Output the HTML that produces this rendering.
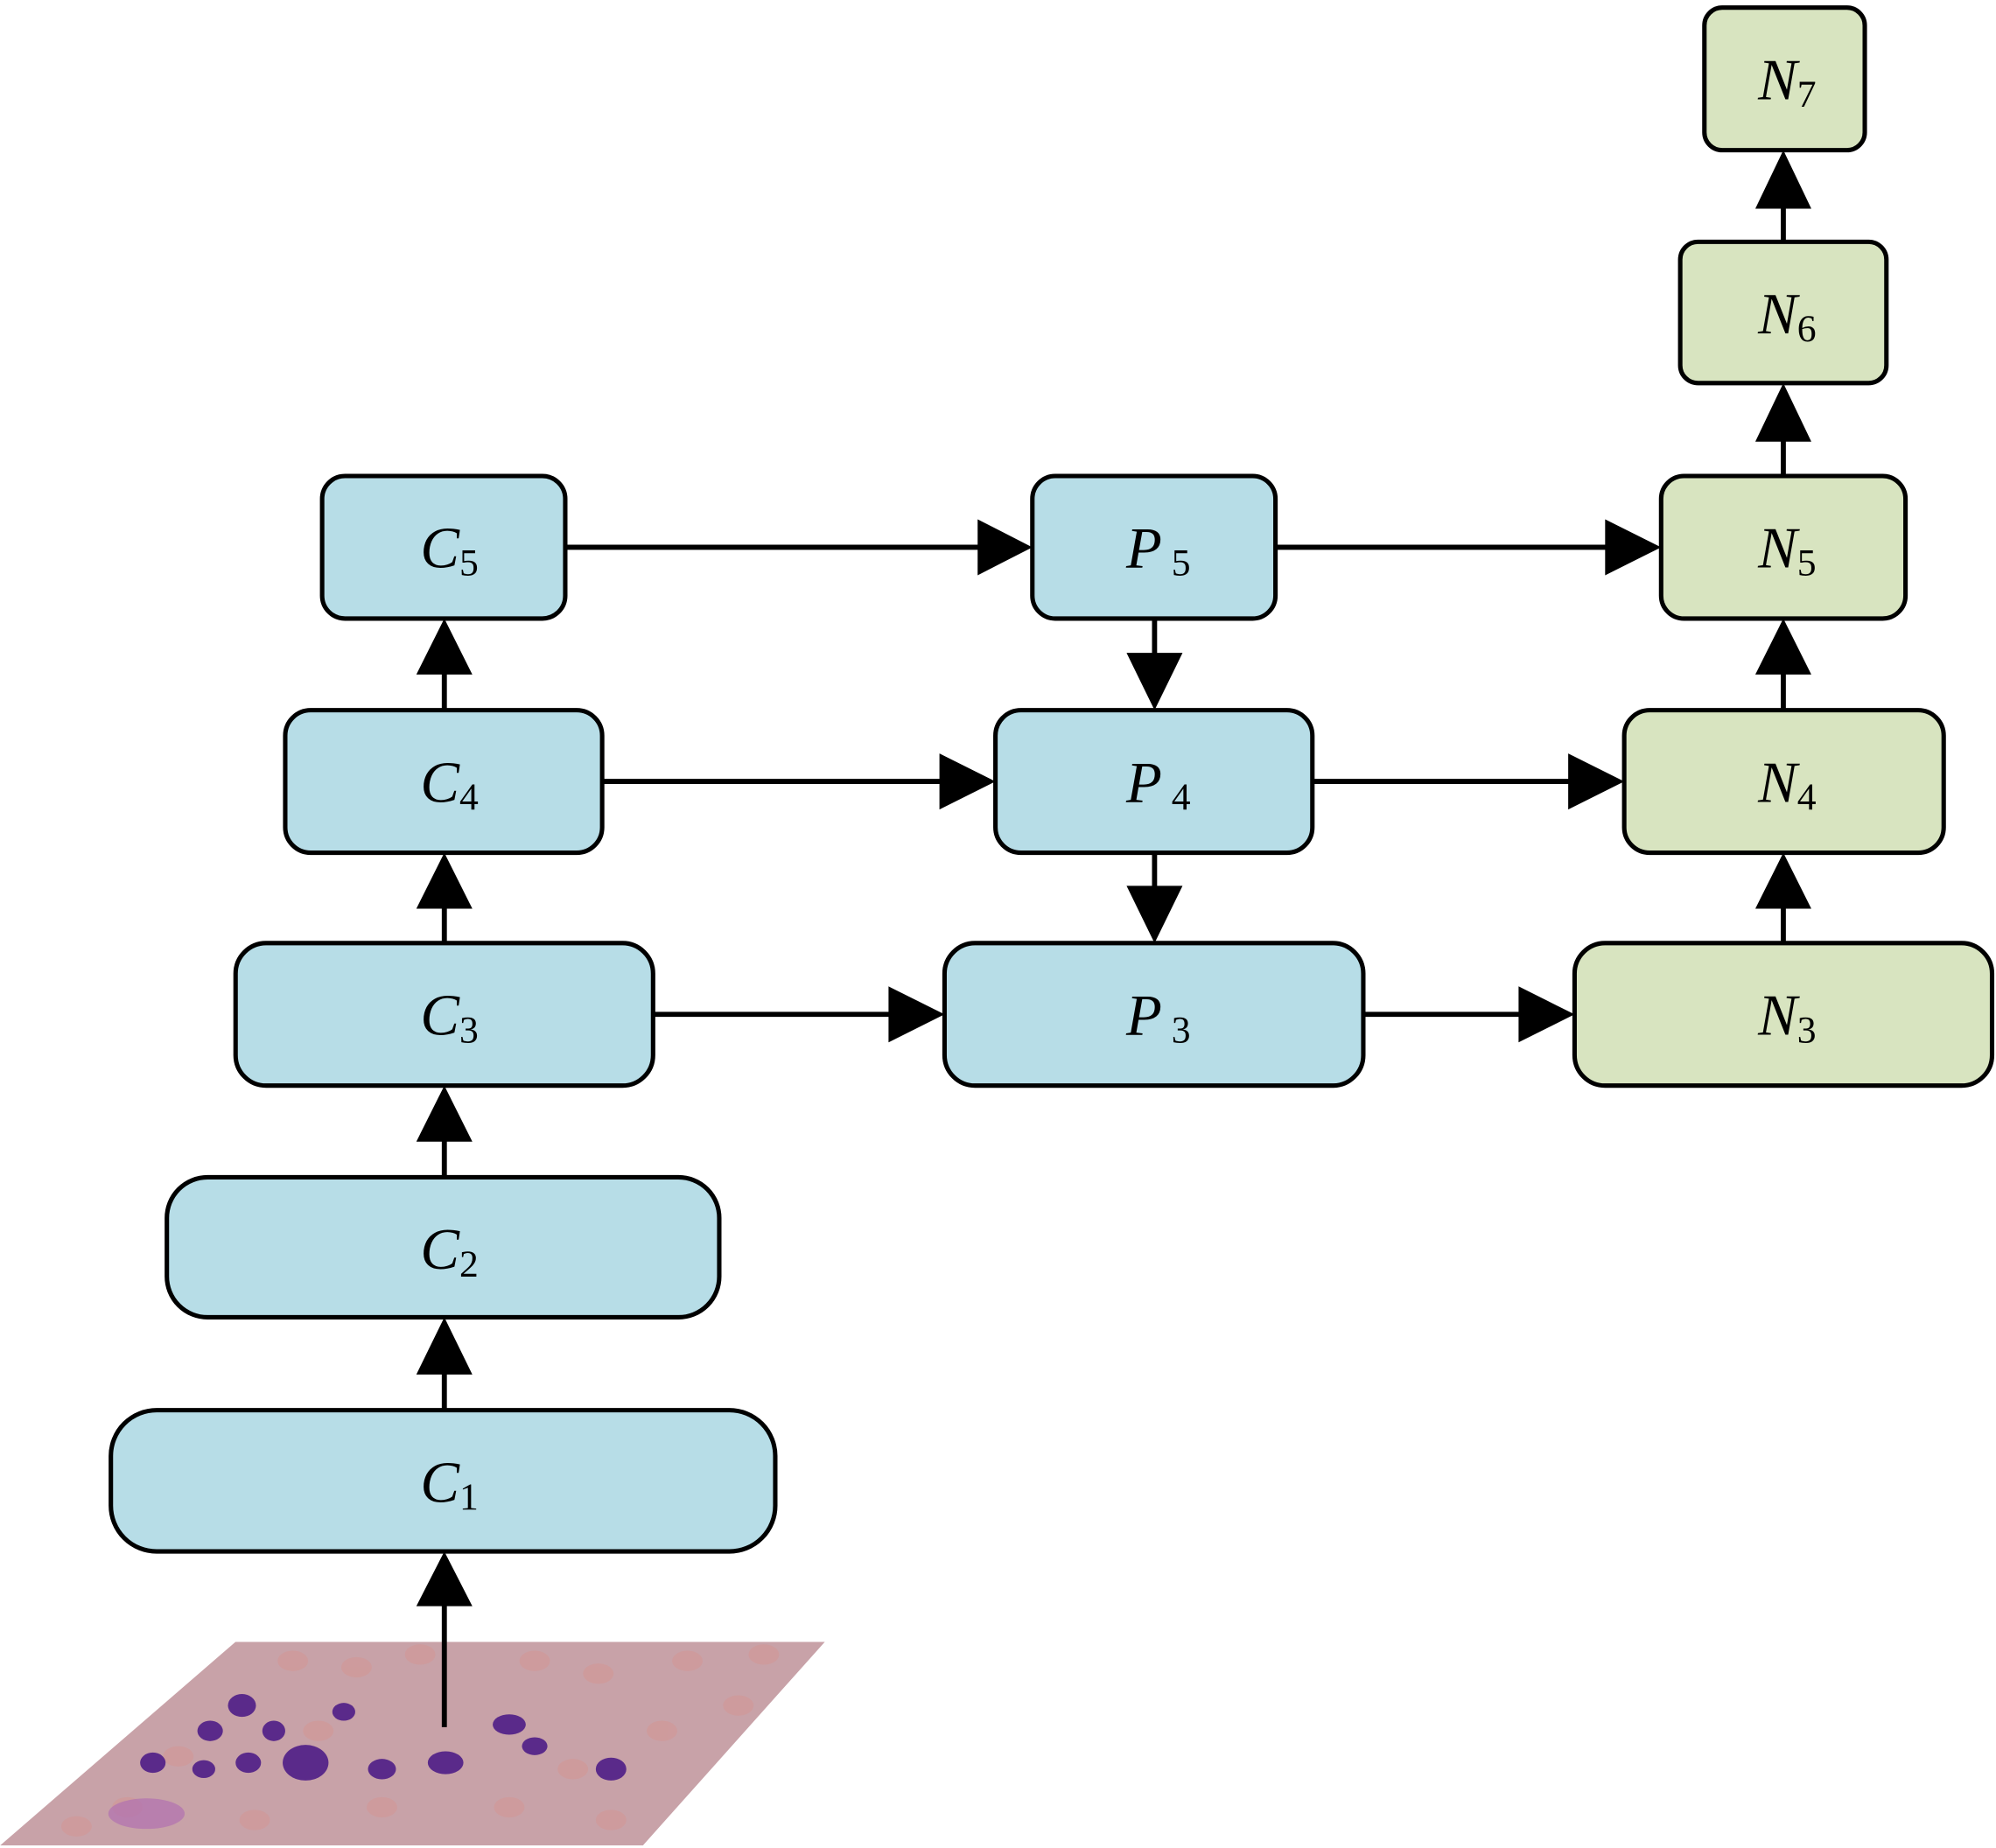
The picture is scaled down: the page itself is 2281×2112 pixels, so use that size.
<!DOCTYPE html>
<html><head><meta charset="utf-8"><style>html,body{margin:0;padding:0;background:#fff}svg{display:block}</style></head>
<body>
<svg width="2281" height="2112" viewBox="0 0 1568 1452" xmlns="http://www.w3.org/2000/svg">
<defs>
<clipPath id="pc"><polygon points="185,1290 648,1290 505,1450 0,1450"/></clipPath>
</defs>
<g clip-path="url(#pc)">
<rect x="0" y="1288" width="650" height="165" fill="#c8a2a8"/>
<g fill="#d09a9a" opacity="0.8">
<ellipse cx="230" cy="1305" rx="12" ry="8"/><ellipse cx="280" cy="1310" rx="12" ry="8"/><ellipse cx="330" cy="1300" rx="12" ry="8"/><ellipse cx="420" cy="1305" rx="12" ry="8"/><ellipse cx="470" cy="1315" rx="12" ry="8"/><ellipse cx="540" cy="1305" rx="12" ry="8"/><ellipse cx="600" cy="1300" rx="12" ry="8"/><ellipse cx="580" cy="1340" rx="12" ry="8"/><ellipse cx="520" cy="1360" rx="12" ry="8"/><ellipse cx="450" cy="1390" rx="12" ry="8"/><ellipse cx="400" cy="1420" rx="12" ry="8"/><ellipse cx="300" cy="1420" rx="12" ry="8"/><ellipse cx="200" cy="1430" rx="12" ry="8"/><ellipse cx="100" cy="1420" rx="12" ry="8"/><ellipse cx="60" cy="1435" rx="12" ry="8"/><ellipse cx="480" cy="1430" rx="12" ry="8"/><ellipse cx="250" cy="1360" rx="12" ry="8"/><ellipse cx="140" cy="1380" rx="12" ry="8"/>
</g>
<g fill="#5a2a8a">
<ellipse cx="190" cy="1340" rx="11" ry="9"/><ellipse cx="165" cy="1360" rx="10" ry="8"/><ellipse cx="215" cy="1360" rx="9" ry="8"/><ellipse cx="240" cy="1385" rx="18" ry="14"/><ellipse cx="195" cy="1385" rx="10" ry="8"/><ellipse cx="160" cy="1390" rx="9" ry="7"/><ellipse cx="120" cy="1385" rx="10" ry="8"/><ellipse cx="350" cy="1385" rx="14" ry="9"/><ellipse cx="300" cy="1390" rx="11" ry="8"/><ellipse cx="400" cy="1355" rx="13" ry="8"/><ellipse cx="420" cy="1372" rx="10" ry="7"/><ellipse cx="480" cy="1390" rx="12" ry="9"/><ellipse cx="270" cy="1345" rx="9" ry="7"/>
</g>
<ellipse cx="115" cy="1425" rx="30" ry="12" fill="#b070b0" opacity="0.7"/>
</g>
<g stroke="#000" stroke-width="3.5" fill="#b7dde7">
<rect x="253" y="374" width="191" height="112" rx="18"/>
<rect x="224" y="558" width="249" height="112" rx="20"/>
<rect x="185" y="741" width="328" height="112" rx="24"/>
<rect x="131" y="925" width="434" height="110" rx="32"/>
<rect x="87" y="1108" width="522" height="111" rx="36"/>
<rect x="811" y="374" width="191" height="112" rx="18"/>
<rect x="782" y="558" width="249" height="112" rx="20"/>
<rect x="742" y="741" width="329" height="112" rx="24"/>
</g>
<g stroke="#000" stroke-width="3.5" fill="#d8e4c0">
<rect x="1339" y="6" width="126" height="112" rx="14"/>
<rect x="1320" y="190" width="162" height="111" rx="14"/>
<rect x="1305" y="374" width="192" height="112" rx="18"/>
<rect x="1276" y="558" width="251" height="112" rx="20"/>
<rect x="1237" y="741" width="328" height="112" rx="24"/>
</g>
<g stroke="#000" stroke-width="4">
<line x1="349" y1="1357" x2="349" y2="1260"/>
<line x1="349" y1="1108" x2="349" y2="1078"/>
<line x1="349" y1="925" x2="349" y2="895"/>
<line x1="349" y1="741" x2="349" y2="712"/>
<line x1="349" y1="558" x2="349" y2="528"/>
<line x1="444" y1="430" x2="770" y2="430"/>
<line x1="473" y1="614" x2="740" y2="614"/>
<line x1="513" y1="797" x2="700" y2="797"/>
<line x1="1002" y1="430" x2="1263" y2="430"/>
<line x1="1031" y1="614" x2="1234" y2="614"/>
<line x1="1071" y1="797" x2="1195" y2="797"/>
<line x1="907" y1="486" x2="907" y2="515"/>
<line x1="907" y1="670" x2="907" y2="698"/>
<line x1="1401" y1="741" x2="1401" y2="712"/>
<line x1="1401" y1="558" x2="1401" y2="528"/>
<line x1="1401" y1="374" x2="1401" y2="345"/>
<line x1="1401" y1="190" x2="1401" y2="162"/>
</g>
<g fill="#000">
<polygon points="349,1219 327,1262 371,1262"/>
<polygon points="349,1035 327,1080 371,1080"/>
<polygon points="349,853 327,897 371,897"/>
<polygon points="349,670 327,714 371,714"/>
<polygon points="349,486 327,530 371,530"/>
<polygon points="811,430 768,408 768,452"/>
<polygon points="782,614 738,592 738,636"/>
<polygon points="742,797 698,775 698,819"/>
<polygon points="1305,430 1261,408 1261,452"/>
<polygon points="1276,614 1232,592 1232,636"/>
<polygon points="1237,797 1193,775 1193,819"/>
<polygon points="907,558 885,513 929,513"/>
<polygon points="907,741 885,696 929,696"/>
<polygon points="1401,670 1379,714 1423,714"/>
<polygon points="1401,486 1379,530 1423,530"/>
<polygon points="1401,301 1379,347 1423,347"/>
<polygon points="1401,118 1379,164 1423,164"/>
</g>
<g font-family="'Liberation Serif', serif" font-size="46" text-anchor="middle" fill="#000">
<text x="353" y="446"><tspan font-style="italic">C</tspan><tspan font-size="30" dy="6">5</tspan></text>
<text x="353" y="630"><tspan font-style="italic">C</tspan><tspan font-size="30" dy="6">4</tspan></text>
<text x="353" y="813"><tspan font-style="italic">C</tspan><tspan font-size="30" dy="6">3</tspan></text>
<text x="353" y="997"><tspan font-style="italic">C</tspan><tspan font-size="30" dy="6">2</tspan></text>
<text x="353" y="1180"><tspan font-style="italic">C</tspan><tspan font-size="30" dy="6">1</tspan></text>
<text x="910" y="446"><tspan font-style="italic">P</tspan><tspan font-size="30" dy="6"> 5</tspan></text>
<text x="910" y="630"><tspan font-style="italic">P</tspan><tspan font-size="30" dy="6"> 4</tspan></text>
<text x="910" y="813"><tspan font-style="italic">P</tspan><tspan font-size="30" dy="6"> 3</tspan></text>
<text x="1404" y="78"><tspan font-style="italic">N</tspan><tspan font-size="30" dy="6">7</tspan></text>
<text x="1404" y="262"><tspan font-style="italic">N</tspan><tspan font-size="30" dy="6">6</tspan></text>
<text x="1404" y="446"><tspan font-style="italic">N</tspan><tspan font-size="30" dy="6">5</tspan></text>
<text x="1404" y="630"><tspan font-style="italic">N</tspan><tspan font-size="30" dy="6">4</tspan></text>
<text x="1404" y="813"><tspan font-style="italic">N</tspan><tspan font-size="30" dy="6">3</tspan></text>
</g>
</svg>
</body></html>
